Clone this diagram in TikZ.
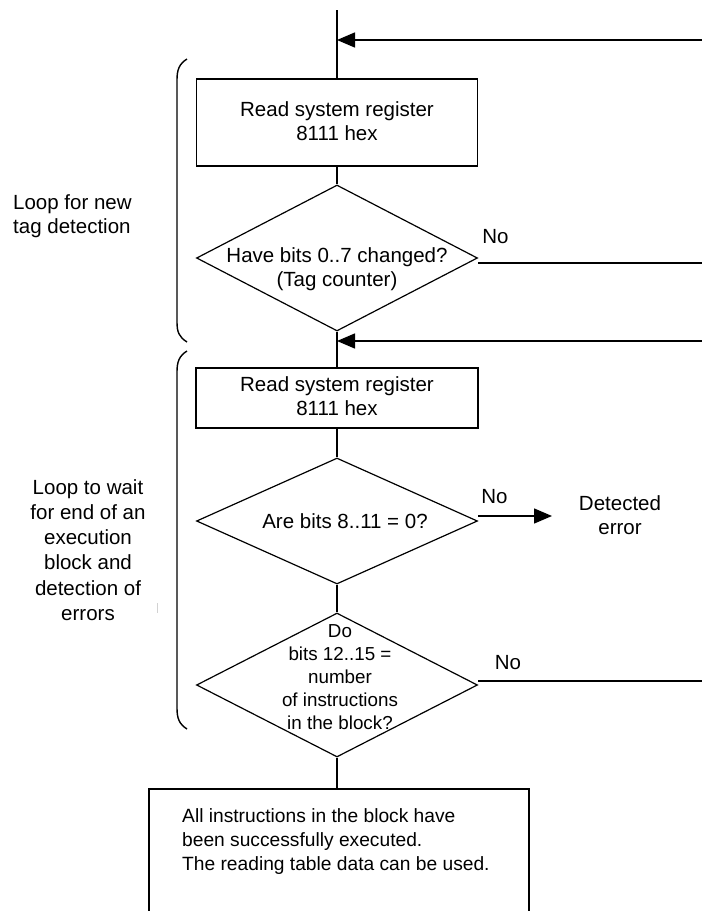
\documentclass[tikz,border=0pt]{standalone}
\usepackage{fontspec}
\setmainfont{Liberation Sans}
\usetikzlibrary{shapes.geometric,arrows.meta}
\begin{document}
\begin{tikzpicture}[x=1pt,y=-1pt,
  line/.style={line width=1.7pt, black},
  hline/.style={line width=1.5pt, black},
  boxs/.style={draw, line width=1.7pt, rectangle, inner sep=0pt},
  dia/.style={draw, line width=1.2pt, diamond, inner sep=0pt, minimum width=281pt},
  txt/.style={align=center, font=\fontsize{20.5}{24.5}\selectfont, inner sep=0pt},
  arr/.style={line width=1.5pt, -{Triangle[length=18pt,width=15pt]}},
  brace/.style={line width=1.4pt}
]
\useasboundingbox (0,0) rectangle (702,911);
\clip (0,0) rectangle (702,911);

% nodes
\node[boxs, minimum width=281pt, minimum height=87pt] (b1) at (337,122.5) {};
\node[txt] (b1t) at (337,121) {Read system register\\8111 hex};
\node[dia, minimum height=146pt] (d1) at (337,258) {};
\node[txt] (d1t) at (337,269) {Have bits 0..7 changed?\\(Tag counter)};
\node[boxs, minimum width=282pt, minimum height=60pt] (b2) at (337,398) {};
\node[txt] (b2t) at (337,396) {Read system register\\8111 hex};
\node[dia, minimum height=126pt] (d2) at (337,521) {};
\node[txt] (d2t) at (345,521) {Are bits 8..11 = 0?};
\node[dia, minimum height=144pt] (d3) at (337,685) {};
\node[txt, font=\fontsize{18.8}{23}\selectfont] (d3t) at (340,677) {Do\\bits 12..15 =\\number\\of instructions\\in the block?};
\node[boxs, minimum width=380pt, minimum height=200pt, anchor=north west] (b3) at (148,788) {};
\node[txt, align=left, anchor=north west, font=\fontsize{19.2}{24}\selectfont] (b3t) at (182,808) {All instructions in the block have\\been successfully executed.\\The reading table data can be used.};

\node[txt] (err) at (620,515) {Detected\\error};
\node[txt] (no1) at (495.5,237) {No};
\node[txt] (no2) at (494.5,497) {No};
\node[txt] (no3) at (508,663) {No};

\node[txt, align=left, anchor=west] (l1) at (13,216) {Loop for new\\tag detection};
\node[txt, font=\fontsize{20.5}{25.2}\selectfont] (l2) at (88,550) {Loop to wait\\for end of an\\execution\\block and\\detection of\\errors};

% coordinates
\coordinate (top) at (337,10);
\coordinate (r1) at (702,40);
\coordinate (j1) at (337,40);
\coordinate (r2) at (702,263);
\coordinate (r3) at (702,341);
\coordinate (j2) at (337,341);
\coordinate (ea) at (552,516);
\coordinate (r4) at (702,681);

% vertical flow
\draw[line] (top) -- (b1.north);
\draw[line] (b1.south) -- (d1.north);
\draw[line] (d1.south) -- (b2.north);
\draw[line] (b2.south) -- (d2.north);
\draw[line] (d2.south) -- (d3.north);
\draw[line] (d3.south) -- (d3.south |- b3.north);

% return loops
\draw[arr] (r1) -- (j1);
\draw[hline] (d1.east |- r2) -- (r2);
\draw[arr] (r3) -- (j2);
\draw[arr] (d2.east |- ea) -- (ea);
\draw[hline] (d3.east |- r4) -- (r4);

% braces
\draw[brace] (187,59) .. controls (179,64) and (177,70) .. (177,80) -- (177,322) .. controls (177,332) and (179,337) .. (187,342);
\draw[brace] (187,351) .. controls (179,356) and (177,362) .. (177,372) -- (177,708) .. controls (177,718) and (179,724) .. (187,729);

% faint tick
\draw[gray!35, line width=0.8pt] (157,603) -- (157,613);
\end{tikzpicture}
\end{document}
